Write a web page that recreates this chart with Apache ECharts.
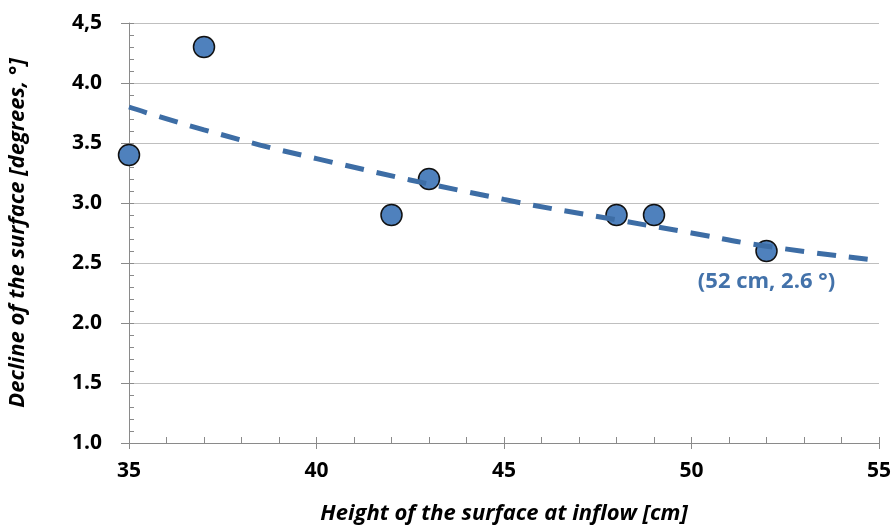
<!DOCTYPE html>
<html>
<head>
<meta charset="utf-8">
<script src="https://cdn.jsdelivr.net/npm/echarts@6/dist/echarts.min.js"></script>
<style>
  html, body { margin: 0; padding: 0; background: #fff; }
  #chart { width: 894px; height: 527px; }
</style>
</head>
<body>
<div id="chart"></div>
<script>
// measured points
const heights = [35, 37, 42, 43, 48, 49, 52];
const declines = [3.4, 4.3, 2.9, 3.2, 2.9, 2.9, 2.6];

// dashed trend line
const trendX = [35, 37, 40, 45, 48, 50, 52, 55];
const trendY = [3.80, 3.61, 3.37, 3.03, 2.86, 2.75, 2.64, 2.52];

const noteIndex = 6;
const noteText = '(52 cm, 2.6 °)';

const xTitle = 'Height of the surface at inflow [cm]';
const yTitle = 'Decline of the surface [degrees, °]';

const FONT = '"Open Sans", Lato, sans-serif';
const AXIS_GRAY = '#8a8a8a';

function yLabel(v) {
  // the original chart prints the top label with a comma
  if (Math.abs(v - 4.5) < 1e-9) return '4,5';
  return v.toFixed(1);
}

const chart = echarts.init(document.getElementById('chart'));

const option = {
  animation: false,
  textStyle: { fontFamily: FONT },
  grid: { left: 129, right: 15, top: 23, bottom: 84, containLabel: false, outerBoundsMode: 'none' },
  xAxis: [
    {
      type: 'value',
      min: 35, max: 55, interval: 5,
      name: xTitle,
      nameLocation: 'middle',
      nameGap: 60,
      nameTextStyle: { fontFamily: FONT, fontSize: 22, fontStyle: 'italic', fontWeight: 'bold', color: '#000' },
      axisLine: { show: true, lineStyle: { color: AXIS_GRAY, width: 1 } },
      axisTick: { show: true, inside: false, length: 6, lineStyle: { color: AXIS_GRAY } },
      axisLabel: { margin: 18, fontFamily: FONT, fontSize: 21, fontWeight: 'bold', color: '#000' },
      splitLine: { show: false }
    },
    {
      // inside minor ticks at every centimetre
      type: 'value',
      min: 35, max: 55, interval: 1,
      position: 'bottom',
      axisLine: { show: false },
      axisTick: { show: true, inside: true, length: 6, lineStyle: { color: AXIS_GRAY } },
      axisLabel: { show: false },
      splitLine: { show: false }
    }
  ],
  yAxis: [
    {
      type: 'value',
      min: 1, max: 4.5, interval: 0.5,
      name: yTitle,
      nameLocation: 'middle',
      nameGap: 100,
      nameRotate: 90,
      nameTextStyle: { fontFamily: FONT, fontSize: 22, fontStyle: 'italic', fontWeight: 'bold', color: '#000' },
      axisLine: { show: true, lineStyle: { color: AXIS_GRAY, width: 1 } },
      axisTick: { show: true, inside: false, length: 8, lineStyle: { color: AXIS_GRAY } },
      axisLabel: { margin: 27, fontFamily: FONT, fontSize: 21, fontWeight: 'bold', color: '#000', formatter: yLabel },
      splitLine: { show: true, lineStyle: { color: '#bfbfbf', width: 1 } }
    },
    {
      type: 'value',
      min: 1, max: 4.5, interval: 0.1,
      position: 'left',
      axisLine: { show: false },
      axisTick: { show: true, inside: true, length: 5, lineStyle: { color: AXIS_GRAY } },
      axisLabel: { show: false },
      splitLine: { show: false }
    }
  ],
  series: [
    {
      type: 'scatter',
      xAxisIndex: 0,
      yAxisIndex: 0,
      z: 2,
      symbol: 'circle',
      symbolSize: 21,
      itemStyle: { color: '#4f81bd', borderColor: '#111', borderWidth: 1.5, opacity: 1 },
      label: {
        show: true,
        position: 'bottom',
        distance: 8,
        fontFamily: FONT,
        fontSize: 22,
        fontWeight: 'bold',
        color: '#4372aa',
        formatter: (p) => (p.dataIndex === noteIndex ? noteText : '')
      },
      data: heights.map((h, i) => [h, declines[i]])
    },
    {
      type: 'line',
      xAxisIndex: 0,
      yAxisIndex: 0,
      z: 3,
      smooth: true,
      symbol: 'none',
      silent: true,
      lineStyle: { color: '#3d6da5', width: 5, type: [19, 13], cap: 'butt' },
      data: trendX.map((x, i) => [x, trendY[i]])
    }
  ]
};

chart.setOption(option);
window.addEventListener('resize', () => chart.resize());
</script>
</body>
</html>
